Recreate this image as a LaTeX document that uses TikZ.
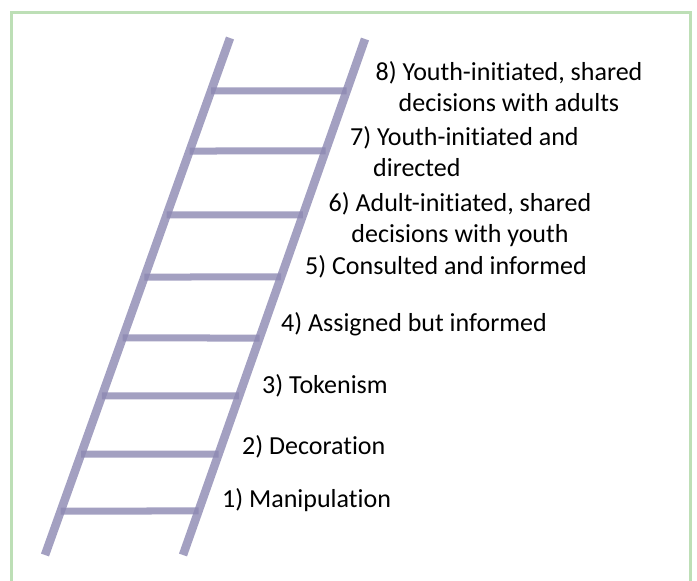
\documentclass[tikz,border=0pt]{standalone}
\usepackage{fontspec}
\setmainfont{Carlito}[Ligatures=NoCommon]
\usetikzlibrary{calc}

\definecolor{framegreen}{RGB}{189,223,182}
\definecolor{laddergray}{RGB}{140,136,178}

\tikzset{
  rail/.style={draw=laddergray, line width=8.5pt, draw opacity=0.8},
  rung/.style={draw=laddergray, line width=7pt, draw opacity=0.8},
  lbl/.style={inner sep=0pt, font=\fontsize{26}{31}\selectfont, text=black},
}

\begin{document}
\begin{tikzpicture}[x=1pt,y=1pt,yscale=-1]
        \useasboundingbox (0,0) rectangle (697,581);

        % frame
        \draw [framegreen, line width=3pt] (11,12) -- (690,12) -- (690,600) -- (11,600) -- cycle;

        % rails
        \coordinate (lt) at (230,38);
        \coordinate (lb) at (45,555);
        \coordinate (rt) at (365,39);
        \coordinate (rb) at (183,555);
        \draw [rail] (lt) -- (lb);
        \draw [rail] (rt) -- (rb);

        % rungs
        \foreach \y in {91,151,215,277,338,396,454,511} {
          \pgfmathsetmacro{\tl}{(\y-38)/517}
          \pgfmathsetmacro{\tr}{(\y-39)/516}
          \draw [rung] ($(lt)!\tl!(lb)$) -- ($(rt)!\tr!(rb)$);
        }

        % Text Node
        \node [lbl, anchor=base west] (step1) at (222,507) {1) Manipulation};
        % Text Node
        \node [lbl, anchor=base west] (step2) at (242,454) {2) Decoration};
        % Text Node
        \node [lbl, anchor=base west] (step3) at (262,393) {3) Tokenism};
        % Text Node
        \node [lbl, anchor=base west] (step4) at (281,331) {4) Assigned but informed};
        % Text Node
        \node [lbl, anchor=base west] (step5) at (305,274) {5) Consulted and informed};
        % Text Node (base sits on the last line)
        \node [lbl, anchor=base, align=center] (step6) at (460,242) {6) Adult-initiated, shared\\decisions with youth};
        % Text Node
        \node [lbl, anchor=base west, align=left] (step7) at (350,176) {7) Youth-initiated and\\\hspace*{23pt}directed};
        % Text Node
        \node [lbl, anchor=base, align=center] (step8) at (509,111) {8) Youth-initiated, shared\\decisions with adults};

\end{tikzpicture}
\end{document}
